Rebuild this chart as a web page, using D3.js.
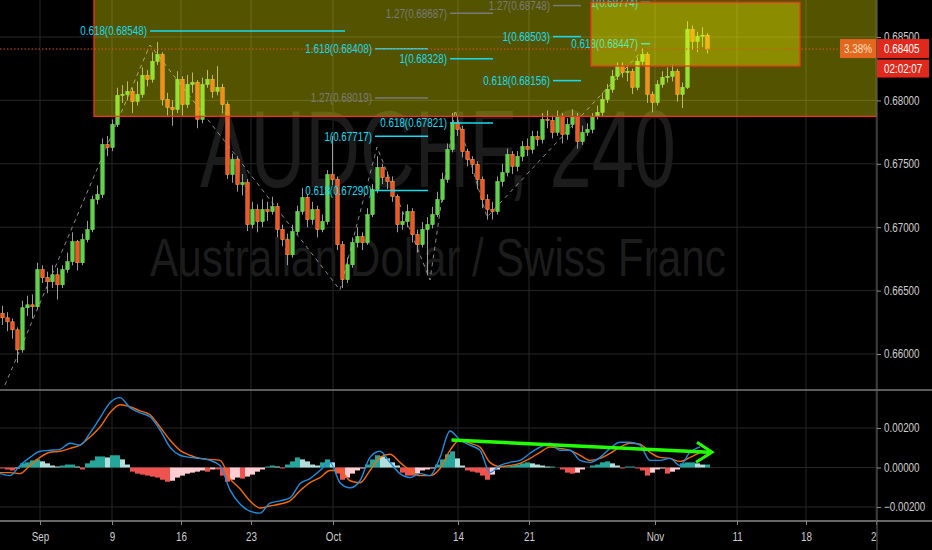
<!DOCTYPE html>
<html>
<head>
<meta charset="utf-8">
<script src="https://cdn.jsdelivr.net/npm/d3@7"></script>
<style>
  html, body { margin: 0; padding: 0; background: #000; overflow: hidden; }
  svg { display: block; }
  text { font-family: "Liberation Sans", Arial, sans-serif; }
</style>
</head>
<body>
<div id="chart"></div>
<script>
// AUDCHF 240 candles (open, high, low, close)
const candles = [
  [0.66320,0.66380,0.66230,0.66286],[0.66286,0.66330,0.66180,0.66254],[0.66254,0.66280,0.66120,0.66191],
  [0.66191,0.66210,0.65930,0.66033],[0.66033,0.66420,0.66010,0.66365],[0.66365,0.66460,0.66300,0.66388],
  [0.66388,0.66470,0.66280,0.66373],[0.66373,0.66720,0.66350,0.66665],[0.66665,0.66700,0.66560,0.66602],
  [0.66602,0.66650,0.66480,0.66570],[0.66570,0.66700,0.66520,0.66625],[0.66625,0.66680,0.66430,0.66546],
  [0.66546,0.66700,0.66520,0.66665],[0.66665,0.66800,0.66640,0.66728],[0.66728,0.66960,0.66700,0.66886],
  [0.66886,0.66900,0.66660,0.66720],[0.66720,0.66950,0.66700,0.66902],[0.66902,0.67050,0.66880,0.66981],
  [0.66981,0.67250,0.66960,0.67218],[0.67218,0.67330,0.67180,0.67257],[0.67257,0.67700,0.67230,0.67652],
  [0.67652,0.67720,0.67560,0.67629],[0.67629,0.67850,0.67600,0.67810],[0.67810,0.68100,0.67790,0.68040],
  [0.68040,0.68120,0.67980,0.68047],[0.68047,0.68150,0.68000,0.68071],[0.68071,0.68100,0.67900,0.67992],
  [0.67992,0.68150,0.67960,0.68047],[0.68047,0.68260,0.68020,0.68198],[0.68198,0.68240,0.68110,0.68166],
  [0.68166,0.68380,0.68140,0.68308],[0.68308,0.68460,0.68280,0.68363],[0.68363,0.68380,0.67960,0.68008],
  [0.68008,0.68060,0.67880,0.67945],[0.67945,0.68000,0.67800,0.67929],[0.67929,0.68230,0.67900,0.68166],
  [0.68166,0.68190,0.67880,0.67968],[0.67968,0.68200,0.67940,0.68126],[0.68126,0.68220,0.68060,0.68142],
  [0.68142,0.68160,0.67780,0.67850],[0.67850,0.68180,0.67820,0.68126],[0.68126,0.68240,0.68100,0.68166],
  [0.68166,0.68200,0.68020,0.68071],[0.68071,0.68270,0.68040,0.68103],[0.68103,0.68130,0.67900,0.67968],
  [0.67968,0.67990,0.67380,0.67415],[0.67415,0.67580,0.67350,0.67534],[0.67534,0.67560,0.67280,0.67336],
  [0.67336,0.67420,0.67250,0.67352],[0.67352,0.67380,0.66970,0.67020],[0.67020,0.67200,0.66990,0.67139],
  [0.67139,0.67180,0.66960,0.67044],[0.67044,0.67220,0.67000,0.67139],[0.67139,0.67200,0.67050,0.67123],
  [0.67123,0.67240,0.67100,0.67163],[0.67163,0.67190,0.66920,0.66981],[0.66981,0.67020,0.66850,0.66902],
  [0.66902,0.66950,0.66700,0.66783],[0.66783,0.67020,0.66760,0.66965],[0.66965,0.67170,0.66940,0.67123],
  [0.67123,0.67310,0.67100,0.67234],[0.67234,0.67260,0.67000,0.67060],[0.67060,0.67200,0.67020,0.67139],
  [0.67139,0.67170,0.66920,0.66981],[0.66981,0.67100,0.66960,0.67044],[0.67044,0.67450,0.67020,0.67415],
  [0.67415,0.67720,0.67330,0.67376],[0.67376,0.67400,0.66820,0.66862],[0.66862,0.66890,0.66520,0.66586],
  [0.66586,0.66760,0.66560,0.66704],[0.66704,0.66920,0.66680,0.66878],[0.66878,0.67000,0.66840,0.66926],
  [0.66926,0.66960,0.66820,0.66878],[0.66878,0.67150,0.66860,0.67099],[0.67099,0.67340,0.67080,0.67297],
  [0.67297,0.67560,0.67270,0.67471],[0.67471,0.67500,0.67340,0.67392],[0.67392,0.67440,0.67300,0.67360],
  [0.67360,0.67400,0.67200,0.67242],[0.67242,0.67260,0.66960,0.67020],[0.67020,0.67120,0.66980,0.67044],
  [0.67044,0.67180,0.67000,0.67123],[0.67123,0.67150,0.66880,0.66941],[0.66941,0.66980,0.66800,0.66862],
  [0.66862,0.67040,0.66840,0.66981],[0.66981,0.67080,0.66620,0.67020],[0.67020,0.67160,0.66990,0.67099],
  [0.67099,0.67280,0.67080,0.67218],[0.67218,0.67430,0.67200,0.67376],[0.67376,0.67660,0.67350,0.67613],
  [0.67613,0.67900,0.67590,0.67826],[0.67826,0.67880,0.67720,0.67771],[0.67771,0.67800,0.67550,0.67597],
  [0.67597,0.67620,0.67480,0.67534],[0.67534,0.67560,0.67420,0.67494],[0.67494,0.67520,0.67300,0.67376],
  [0.67376,0.67400,0.67150,0.67218],[0.67218,0.67260,0.67060,0.67139],[0.67139,0.67200,0.67060,0.67123],
  [0.67123,0.67400,0.67100,0.67360],[0.67360,0.67500,0.67320,0.67431],[0.67431,0.67620,0.67400,0.67573],
  [0.67573,0.67600,0.67420,0.67479],[0.67479,0.67600,0.67440,0.67558],[0.67558,0.67680,0.67520,0.67637],
  [0.67637,0.67700,0.67560,0.67613],[0.67613,0.67760,0.67580,0.67716],[0.67716,0.67760,0.67640,0.67692],
  [0.67692,0.67900,0.67660,0.67850],[0.67850,0.67920,0.67780,0.67842],[0.67842,0.67880,0.67700,0.67747],
  [0.67747,0.67920,0.67720,0.67874],[0.67874,0.67900,0.67660,0.67731],[0.67731,0.67860,0.67690,0.67810],
  [0.67810,0.67930,0.67780,0.67874],[0.67874,0.67900,0.67620,0.67676],[0.67676,0.67800,0.67650,0.67747],
  [0.67747,0.67820,0.67720,0.67771],[0.67771,0.67900,0.67740,0.67874],[0.67874,0.67960,0.67850,0.67905],
  [0.67905,0.68060,0.67870,0.68008],[0.68008,0.68130,0.67980,0.68087],[0.68087,0.68240,0.68060,0.68190],
  [0.68190,0.68300,0.68160,0.68269],[0.68269,0.68300,0.68180,0.68221],[0.68221,0.68280,0.68150,0.68229],
  [0.68229,0.68250,0.68050,0.68103],[0.68103,0.68340,0.68080,0.68308],[0.68308,0.68410,0.68280,0.68363],
  [0.68363,0.68380,0.67980,0.68047],[0.68047,0.68070,0.67905,0.67984],[0.67984,0.68160,0.67960,0.68126],
  [0.68126,0.68230,0.68100,0.68182],[0.68182,0.68260,0.68140,0.68190],[0.68190,0.68280,0.68150,0.68229],
  [0.68229,0.68250,0.67990,0.68047],[0.68047,0.68140,0.67940,0.68103],[0.68103,0.68624,0.68090,0.68561],
  [0.68561,0.68590,0.68400,0.68466],[0.68466,0.68540,0.68380,0.68506],[0.68506,0.68577,0.68420,0.68514],
  [0.68514,0.68530,0.68370,0.68405]
];

// MACD pane, one histogram value per candle
const macdHist = [
  -0.00005,-0.00010,-0.00015,-0.00005,0.00021,0.00026,0.00036,0.00041,0.00031,0.00021,
  0.00010,0.00005,0.00010,0.00015,0.00015,0.00005,-0.00010,0.00021,0.00036,0.00056,
  0.00056,0.00051,0.00062,0.00062,0.00041,0.00015,-0.00021,-0.00031,-0.00036,-0.00041,
  -0.00046,-0.00051,-0.00062,-0.00072,-0.00067,-0.00051,-0.00041,-0.00031,-0.00026,-0.00021,
  -0.00015,-0.00021,-0.00010,-0.00010,-0.00041,-0.00072,-0.00062,-0.00051,-0.00056,-0.00046,
  -0.00036,-0.00021,-0.00010,0.00005,0.00010,0.00005,-0.00005,0.00015,0.00031,0.00051,
  0.00041,0.00031,0.00015,0.00010,0.00026,0.00041,0.00026,-0.00031,-0.00062,-0.00051,
  -0.00031,-0.00015,-0.00005,0.00015,0.00041,0.00062,0.00056,0.00046,0.00026,0.00010,
  -0.00026,-0.00041,-0.00041,-0.00031,-0.00015,-0.00010,-0.00005,0.00015,0.00041,0.00067,
  0.00082,0.00046,0.00010,-0.00015,-0.00021,-0.00026,-0.00041,-0.00062,-0.00036,-0.00010,
  0.00005,0.00005,0.00010,0.00015,0.00021,0.00026,0.00021,0.00015,0.00010,0.00005,
  0.00005,0.00000,-0.00010,-0.00026,-0.00031,-0.00026,-0.00010,0.00000,0.00010,0.00015,
  0.00026,0.00031,0.00021,0.00010,-0.00005,0.00005,0.00005,-0.00005,-0.00015,-0.00041,
  -0.00026,-0.00010,-0.00005,-0.00031,-0.00021,-0.00010,0.00021,0.00026,0.00026,0.00021,
  0.00015,0.00015
];

// MACD and signal lines, one value every second candle
const macdStep = 2;
const macdLine = [
  -0.00031,-0.00041,0.00010,0.00051,0.00082,0.00087,0.00092,0.00123,0.00113,0.00174,
  0.00251,0.00328,0.00354,0.00303,0.00277,0.00257,0.00190,0.00103,0.00062,0.00051,
  0.00046,0.00036,0.00010,-0.00113,-0.00185,-0.00221,-0.00231,-0.00180,-0.00169,-0.00154,
  -0.00082,-0.00056,-0.00015,0.00026,-0.00077,-0.00103,-0.00067,0.00051,0.00082,0.00026,
  -0.00031,-0.00051,-0.00031,-0.00041,0.00051,0.00185,0.00139,0.00113,0.00087,-0.00026,
  0.00010,0.00026,0.00036,0.00072,0.00103,0.00123,0.00087,0.00087,0.00036,0.00026,
  0.00051,0.00097,0.00128,0.00128,0.00113,0.00036,0.00036,0.00046,0.00010,0.00077,
  0.00103
];
const signalLine = [
  -0.00026,-0.00026,-0.00031,0.00010,0.00051,0.00077,0.00082,0.00097,0.00113,0.00154,
  0.00205,0.00277,0.00318,0.00308,0.00287,0.00267,0.00205,0.00139,0.00087,0.00062,
  0.00046,0.00041,0.00036,-0.00056,-0.00108,-0.00169,-0.00205,-0.00195,-0.00185,-0.00169,
  -0.00118,-0.00077,-0.00051,-0.00015,-0.00015,-0.00067,-0.00077,-0.00015,0.00051,0.00067,
  0.00026,-0.00015,-0.00041,-0.00041,-0.00005,0.00087,0.00139,0.00123,0.00103,0.00026,
  0.00005,0.00010,0.00021,0.00046,0.00077,0.00103,0.00097,0.00087,0.00062,0.00036,
  0.00046,0.00072,0.00103,0.00123,0.00118,0.00077,0.00051,0.00046,0.00031,0.00051,
  0.00077
];

// axis ticks
const priceTicks = [0.660, 0.665, 0.670, 0.675, 0.680, 0.685];
const macdTicks = [-0.002, 0, 0.002];
const dateLabels = ["Sep", "9", "16", "23", "Oct", "14", "21", "Nov", "11", "18", "25"];
const dateBars = [7.5, 21.9, 35.7, 49.7, 66.1, 91.1, 105.3, 130.5, 146.9, 160.7, 174.7];

// drawings: zones, fib levels, zig-zag, divergence arrow
const bigZone = { from: 18.3, to: 200, top: 0.690, bottom: 0.67874 };
const smallZone = { from: 117.7, to: 159.5, top: 0.68774, bottom: 0.68271 };
const fibSpans = [[29.5, 68.5], [74.5, 85.1], [89.5, 98.1], [110.1, 115.7], [127.7, 129.5]];
const fibLevels = [
  [0, "0.618", 0.68548, "c"],
  [1, "1.618", 0.68408, "c"], [1, "1.27", 0.68019, "g"], [1, "1", 0.67717, "c"], [1, "0.618", 0.67290, "c"],
  [2, "1.27", 0.68687, "g"], [2, "1", 0.68328, "c"], [2, "0.618", 0.67821, "c"],
  [3, "1.27", 0.68748, "g"], [3, "1", 0.68503, "c"], [3, "0.618", 0.68156, "c"],
  [4, "1", 0.68774, "c"], [4, "0.618", 0.68447, "c"]
];
const zigzag = [[0.5, 0.65756], [29.5, 0.68437], [67.5, 0.66505], [74.9, 0.67632],
  [85.5, 0.66584], [90.5, 0.67924], [96.9, 0.67080], [127.5, 0.68374]];
const divArrow = [[89.8, 0.00139], [141.3, 0.00077]];
const lastPrice = 0.68405;
const changeText = "3.38%";
const countdown = "02:02:07";

const W = 932, H = 550;
const plotR = 877, mainB = 390, macdB = 521;
const gridCol = "#262626";
const uiFont = "'Liberation Sans', Arial, sans-serif";

const x = d3.scaleLinear().domain([-0.5, 174.9]).range([0, plotR]);
const y = d3.scaleLinear().domain([0.660, 0.685]).range([354, 37]);
const ym = d3.scaleLinear().domain([-0.002, 0.002]).range([507, 428]);

const svg = d3.select("#chart").append("svg")
  .attr("width", W)
  .attr("height", H);

svg.append("rect").attr("width", W).attr("height", H).attr("fill", "#000");

const defs = svg.append("defs");
defs.append("clipPath").attr("id", "clipMain")
  .append("rect").attr("width", plotR).attr("height", mainB);
defs.append("clipPath").attr("id", "clipMacd")
  .append("rect").attr("y", mainB).attr("width", plotR).attr("height", macdB - mainB);

// grid
svg.append("g").selectAll("line")
  .data(dateBars)
  .join("line")
  .attr("x1", d => x(d)).attr("x2", d => x(d))
  .attr("y1", 0).attr("y2", macdB)
  .attr("stroke", gridCol);

svg.append("g").selectAll("line")
  .data(priceTicks)
  .join("line")
  .attr("x1", 0).attr("x2", plotR)
  .attr("y1", d => y(d)).attr("y2", d => y(d))
  .attr("stroke", gridCol);

svg.append("g").selectAll("line")
  .data(macdTicks)
  .join("line")
  .attr("x1", 0).attr("x2", plotR)
  .attr("y1", d => ym(d)).attr("y2", d => ym(d))
  .attr("stroke", gridCol);

const main = svg.append("g").attr("clip-path", "url(#clipMain)");

// watermark
main.append("text")
  .attr("class", "wm")
  .attr("x", 200).attr("y", 187)
  .attr("font-size", 110)
  .attr("textLength", 476).attr("lengthAdjust", "spacingAndGlyphs")
  .attr("fill", "#1c1c1c")
  .text("AUDCHF, 240");
main.append("text")
  .attr("class", "wm")
  .attr("x", 150).attr("y", 276)
  .attr("font-size", 54)
  .attr("textLength", 576).attr("lengthAdjust", "spacingAndGlyphs")
  .attr("fill", "#1c1c1c")
  .text("Australian Dollar / Swiss Franc");

// dashed fib anchors
main.append("path")
  .datum(zigzag)
  .attr("d", d3.line().x(d => x(d[0])).y(d => y(d[1])))
  .attr("fill", "none")
  .attr("stroke", "#8a8a8a")
  .attr("stroke-dasharray", "4,4");

// candles
main.append("g").selectAll("line")
  .data(candles)
  .join("line")
  .attr("x1", (d, i) => x(i)).attr("x2", (d, i) => x(i))
  .attr("y1", d => y(d[1])).attr("y2", d => y(d[2]))
  .attr("stroke", "#9c9c9c");

main.append("g").selectAll("rect")
  .data(candles)
  .join("rect")
  .attr("x", (d, i) => x(i) - 1.7)
  .attr("width", 3.4)
  .attr("y", d => y(Math.max(d[0], d[3])))
  .attr("height", d => Math.max(1, Math.abs(y(d[0]) - y(d[3]))))
  .attr("fill", d => d[3] >= d[0] ? "#5fd14a" : "#f0532a")
  .attr("stroke", d => d[3] >= d[0] ? "#74e05a" : "#ff9a3c")
  .attr("stroke-width", 0.6);

// big zone
main.append("rect")
  .attr("x", x(bigZone.from)).attr("width", x(bigZone.to) - x(bigZone.from))
  .attr("y", y(bigZone.top)).attr("height", y(bigZone.bottom) - y(bigZone.top))
  .attr("fill", "rgba(255,255,0,0.33)")
  .attr("stroke", "#f2331e")
  .attr("stroke-width", 1.3);

// fib levels
const fibCol = { c: "#14dcf0", g: "#7a7a7a" };
const fibG = main.append("g");
fibG.selectAll("line")
  .data(fibLevels)
  .join("line")
  .attr("x1", d => x(fibSpans[d[0]][0]))
  .attr("x2", d => x(fibSpans[d[0]][1]))
  .attr("y1", d => y(d[2])).attr("y2", d => y(d[2]))
  .attr("stroke", d => fibCol[d[3]])
  .attr("stroke-width", 1.5);
fibG.selectAll("text")
  .data(fibLevels)
  .join("text")
  .attr("x", d => x(fibSpans[d[0]][0]) - 3)
  .attr("y", d => y(d[2]))
  .attr("dy", "0.36em")
  .attr("text-anchor", "end")
  .attr("font-size", 12)
  .attr("fill", d => fibCol[d[3]])
  .text(d => `${d[1]}(${d[2].toFixed(5)})`);

// small zone
main.append("rect")
  .attr("x", x(smallZone.from)).attr("width", x(smallZone.to) - x(smallZone.from))
  .attr("y", y(smallZone.top)).attr("height", y(smallZone.bottom) - y(smallZone.top))
  .attr("fill", "rgba(255,255,0,0.33)")
  .attr("stroke", "#f2331e")
  .attr("stroke-width", 1.3);

// last price line
main.append("line")
  .attr("x1", 0).attr("x2", 840)
  .attr("y1", y(lastPrice)).attr("y2", y(lastPrice))
  .attr("stroke", "#e8501c")
  .attr("stroke-dasharray", "1.5,2");

// MACD pane
const macdG = svg.append("g").attr("clip-path", "url(#clipMacd)");

macdG.append("g").selectAll("rect")
  .data(macdHist)
  .join("rect")
  .attr("x", (d, i) => x(i - 0.5))
  .attr("width", x(1) - x(0))
  .attr("y", d => ym(Math.max(0, d)))
  .attr("height", d => Math.abs(ym(d) - ym(0)))
  .attr("fill", (d, i) => {
    const prev = i > 0 ? macdHist[i - 1] : d;
    if (d >= 0) return d >= prev ? "#26a69a" : "#b2dfdb";
    return d <= prev ? "#ef5350" : "#ffcdd2";
  });

const mline = d3.line()
  .x((d, i) => x(i * macdStep - 0.5))
  .y(d => ym(d))
  .curve(d3.curveMonotoneX);

macdG.append("path").datum(signalLine)
  .attr("d", mline).attr("fill", "none")
  .attr("stroke", "#f26a0a").attr("stroke-width", 1.4);
macdG.append("path").datum(macdLine)
  .attr("d", mline).attr("fill", "none")
  .attr("stroke", "#1e8ee0").attr("stroke-width", 1.4);

// divergence arrow
const a0 = [x(divArrow[0][0]), ym(divArrow[0][1])];
const a1 = [x(divArrow[1][0]), ym(divArrow[1][1])];
macdG.append("line")
  .attr("x1", a0[0]).attr("y1", a0[1]).attr("x2", a1[0]).attr("y2", a1[1])
  .attr("stroke", "#22ff00").attr("stroke-width", 3.5);
macdG.append("path")
  .attr("d", `M${a1[0] - 12},${a1[1] - 10}L${a1[0] + 3},${a1[1]}L${a1[0] - 13},${a1[1] + 10}`)
  .attr("fill", "none")
  .attr("stroke", "#22ff00").attr("stroke-width", 3);

// time axis
const xAxis = d3.axisBottom(x)
  .tickValues(dateBars)
  .tickFormat((d, i) => dateLabels[i])
  .tickSize(4)
  .tickPadding(7);

const xAxisG = svg.append("g")
  .attr("transform", `translate(0, ${macdB})`)
  .call(xAxis);
xAxisG.select(".domain").remove();
xAxisG.selectAll("line").attr("stroke", "#8a8a8a");
xAxisG.selectAll("text")
  .attr("fill", "#cfcfcf")
  .attr("font-size", 12)
  .attr("font-family", uiFont);

// pane borders
svg.append("line")
  .attr("x1", 0).attr("x2", plotR).attr("y1", mainB).attr("y2", mainB)
  .attr("stroke", "#7a7a7a").attr("stroke-width", 1.5);
svg.append("line")
  .attr("x1", 0).attr("x2", plotR).attr("y1", macdB).attr("y2", macdB)
  .attr("stroke", "#8a8a8a").attr("stroke-width", 1.5);

// price scale area
svg.append("rect")
  .attr("x", plotR).attr("y", 0).attr("width", W - plotR).attr("height", H)
  .attr("fill", "#000");
svg.append("line")
  .attr("x1", plotR).attr("x2", plotR).attr("y1", 0).attr("y2", H)
  .attr("stroke", "#555").attr("stroke-width", 1.2);
svg.append("line")
  .attr("x1", plotR).attr("x2", W).attr("y1", mainB).attr("y2", mainB)
  .attr("stroke", "#7a7a7a").attr("stroke-width", 1.5);
svg.append("line")
  .attr("x1", plotR).attr("x2", W).attr("y1", macdB).attr("y2", macdB)
  .attr("stroke", "#8a8a8a").attr("stroke-width", 1.5);

const fmt = d3.format(".5f");

const yAxisG = svg.append("g")
  .attr("transform", `translate(${plotR}, 0)`)
  .call(d3.axisRight(y).tickValues(priceTicks).tickFormat(fmt).tickSize(4).tickPadding(3));
const ymAxisG = svg.append("g")
  .attr("transform", `translate(${plotR}, 0)`)
  .call(d3.axisRight(ym).tickValues(macdTicks).tickFormat(fmt).tickSize(4).tickPadding(3));

[yAxisG, ymAxisG].forEach(g => {
  g.select(".domain").remove();
  g.selectAll("line").attr("stroke", "#8a8a8a");
  g.selectAll("text")
    .attr("fill", "#cfcfcf")
    .attr("font-size", 12)
    .attr("font-family", uiFont);
});

// last price badges
const py = y(lastPrice);
svg.append("rect")
  .attr("x", 840).attr("y", py - 10).attr("width", 36).attr("height", 19)
  .attr("fill", "#e5671d");
svg.append("text")
  .attr("x", 858).attr("y", py).attr("dy", "0.36em")
  .attr("text-anchor", "middle").attr("font-size", 12)
  .attr("fill", "#ffe2c4")
  .text(changeText);
svg.append("rect")
  .attr("x", plotR).attr("y", py - 10).attr("width", 52).attr("height", 19)
  .attr("fill", "#e0291c");
svg.append("text")
  .attr("x", 884).attr("y", py).attr("dy", "0.36em")
  .attr("font-size", 12).attr("fill", "#fff")
  .text(fmt(lastPrice));
svg.append("rect")
  .attr("x", plotR).attr("y", py + 10.5).attr("width", 52).attr("height", 18)
  .attr("fill", "#e0291c");
svg.append("text")
  .attr("x", 884).attr("y", py + 19.5).attr("dy", "0.36em")
  .attr("font-size", 12).attr("fill", "#fff")
  .text(countdown);

// narrow the UI font the way TradingView's condensed labels look
svg.selectAll("text:not(.wm)").each(function () {
  const w = this.getComputedTextLength();
  d3.select(this).attr("textLength", w * 0.82).attr("lengthAdjust", "spacingAndGlyphs");
});
</script>
</body>
</html>
